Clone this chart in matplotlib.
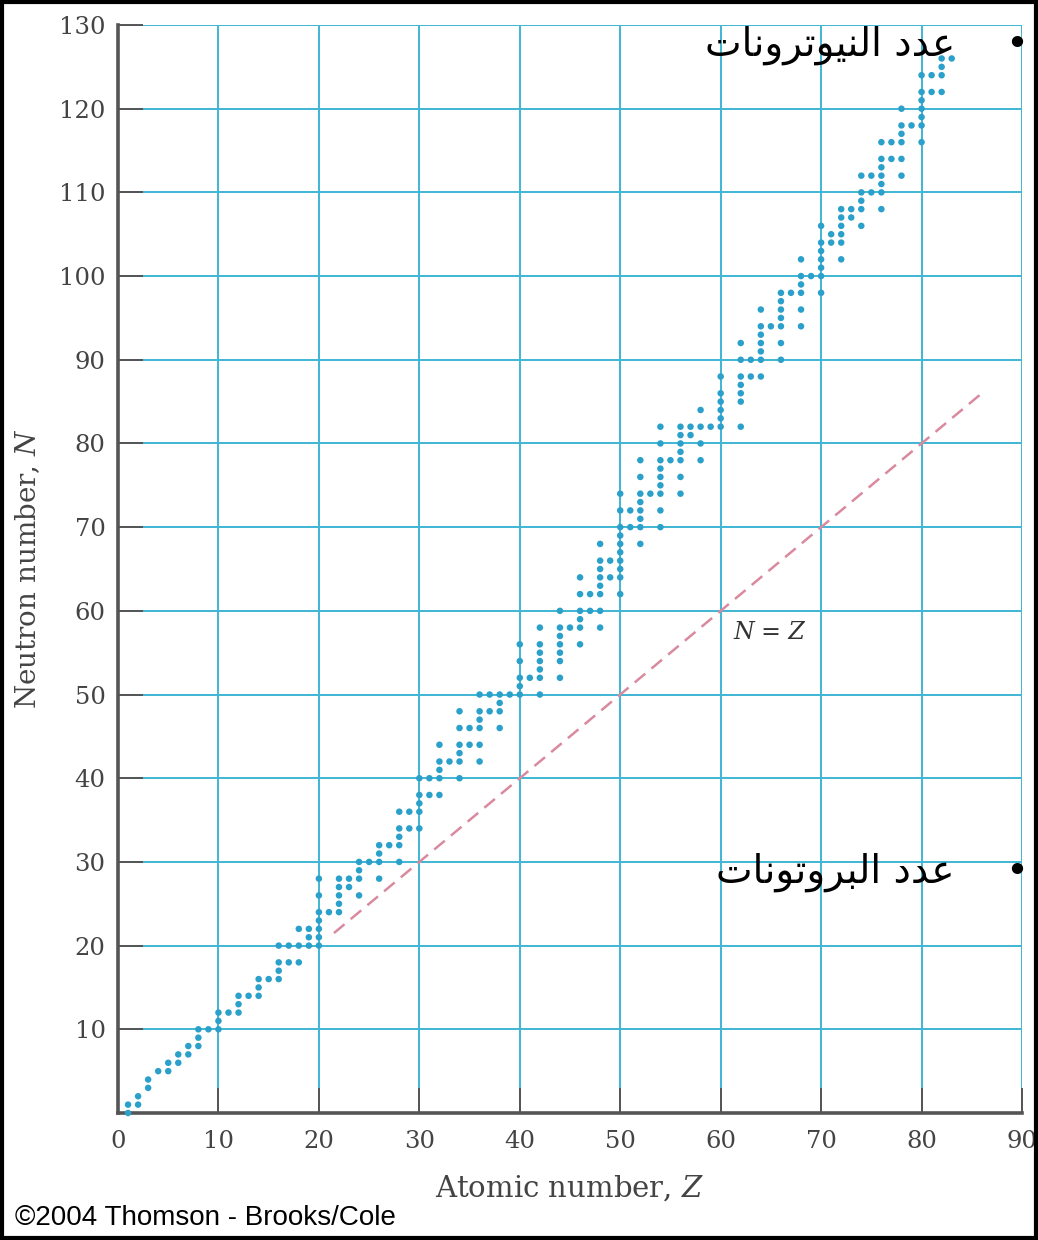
import matplotlib
matplotlib.use("Agg")
import matplotlib.pyplot as plt
from matplotlib.patches import Rectangle

# ---------------- data ----------------
# neutron numbers of stable nuclei, index = Z - 1 (Z = 1 .. 83)
stable_neutrons = [
    [0, 1], [1, 2], [3, 4], [5], [5, 6], [6, 7], [7, 8], [8, 9, 10], [10], [10, 11, 12],
    [12], [12, 13, 14], [14], [14, 15, 16], [16], [16, 17, 18, 20], [18, 20], [18, 20, 22],
    [20, 21, 22], [20, 21, 22, 23, 24, 26, 28],
    [24], [24, 25, 26, 27, 28], [27, 28], [26, 28, 29, 30], [30], [28, 30, 31, 32], [32],
    [30, 32, 33, 34, 36], [34, 36], [34, 36, 37, 38, 40],
    [38, 40], [38, 40, 41, 42, 44], [42], [40, 42, 43, 44, 46, 48], [44, 46],
    [42, 44, 46, 47, 48, 50], [48, 50], [46, 48, 49, 50], [50], [50, 51, 52, 54, 56],
    [52], [50, 52, 53, 54, 55, 56, 58], [], [52, 54, 55, 56, 57, 58, 60], [58],
    [56, 58, 59, 60, 62, 64], [60, 62], [58, 60, 62, 63, 64, 65, 66, 68], [64, 66],
    [62, 64, 65, 66, 67, 68, 69, 70, 72, 74],
    [70, 72], [68, 70, 71, 72, 73, 74, 76, 78], [74], [70, 72, 74, 75, 76, 77, 78, 80, 82],
    [78], [74, 76, 78, 79, 80, 81, 82], [81, 82], [78, 80, 82, 84], [82],
    [82, 83, 84, 85, 86, 88],
    [], [82, 85, 86, 87, 88, 90, 92], [88, 90], [88, 90, 91, 92, 93, 94, 96], [94],
    [90, 92, 94, 95, 96, 97, 98], [98], [94, 96, 98, 99, 100, 102], [100],
    [98, 100, 101, 102, 103, 104, 106],
    [104, 105], [102, 104, 105, 106, 107, 108], [107, 108], [106, 108, 109, 110, 112],
    [110, 112], [108, 110, 111, 112, 113, 114, 116], [114, 116],
    [112, 114, 116, 117, 118, 120], [118], [116, 118, 119, 120, 121, 122, 124],
    [122, 124], [122, 124, 125, 126], [126],
]
x_ticks = [0, 10, 20, 30, 40, 50, 60, 70, 80, 90]
y_ticks = [0, 10, 20, 30, 40, 50, 60, 70, 80, 90, 100, 110, 120, 130]
y_tick_labels = [""] + [str(v) for v in y_ticks[1:]]
nz_line = [21.5, 86.0]          # extent of the N = Z reference line
nz_label_pos = (61.3, 57.4)

title_neutrons = "عدد النيوترونات"
title_protons = "عدد البروتونات"

# ------------- minimal Arabic shaping (matplotlib has no shaper) -------------
FORMS = {  # iso, fin, init, med
    'ا': ('\uFE8D', '\uFE8E', None, None),
    'د': ('\uFEA9', '\uFEAA', None, None),
    'ر': ('\uFEAD', '\uFEAE', None, None),
    'و': ('\uFEED', '\uFEEE', None, None),
    'ب': ('\uFE8F', '\uFE90', '\uFE91', '\uFE92'),
    'ت': ('\uFE95', '\uFE96', '\uFE97', '\uFE98'),
    'ع': ('\uFEC9', '\uFECA', '\uFECB', '\uFECC'),
    'ل': ('\uFEDD', '\uFEDE', '\uFEDF', '\uFEE0'),
    'ن': ('\uFEE5', '\uFEE6', '\uFEE7', '\uFEE8'),
    'ي': ('\uFEF1', '\uFEF2', '\uFEF3', '\uFEF4'),
}


def shape_arabic(s):
    out = []
    for i, ch in enumerate(s):
        if ch not in FORMS:
            out.append(ch)
            continue
        prev = s[i - 1] if i > 0 else ''
        nxt = s[i + 1] if i + 1 < len(s) else ''
        jp = prev in FORMS and FORMS[prev][2] is not None
        jn = FORMS[ch][2] is not None and nxt in FORMS
        iso, fin, ini, med = FORMS[ch]
        if jp and jn:
            out.append(med)
        elif jp:
            out.append(fin)
        elif jn:
            out.append(ini)
        else:
            out.append(iso)
    return ''.join(reversed(out))


# ---------------- figure ----------------
W, H = 1038, 1240
plt.rcParams["mathtext.fontset"] = "dejavuserif"
fig = plt.figure(figsize=(W / 100, H / 100), dpi=100)
fig.patch.set_facecolor("white")
ax = fig.add_axes([118 / W, 1 - 1113 / H, (1022 - 118) / W, (1113 - 25) / H])

zs, ns = [], []
for z, nlist in enumerate(stable_neutrons, start=1):
    for n in nlist:
        zs.append(z)
        ns.append(n)

grid_col = "#3fb6d3"
ax.set_xlim(0, 90)
ax.set_ylim(0, 130)
ax.set_xticks(x_ticks)
ax.set_yticks(y_ticks)
ax.set_yticklabels(y_tick_labels)
ax.grid(True, color=grid_col, lw=1.4, zorder=0)
ax.set_axisbelow(True)

for side in ("top", "right"):
    ax.spines[side].set_visible(False)
for side in ("left", "bottom"):
    ax.spines[side].set_color("#555555")
    ax.spines[side].set_linewidth(2.6)

ax.tick_params(direction="in", length=18, width=1.4, color="#555555",
               labelcolor="#444444", labelsize=17.5)
ax.tick_params(axis="x", pad=12)
ax.tick_params(axis="y", pad=9)
for lab in ax.get_xticklabels() + ax.get_yticklabels():
    lab.set_family("DejaVu Serif")

ax.scatter(zs, ns, s=22, color="#2aa0ca", edgecolors="none", zorder=3, clip_on=False)
ax.plot(nz_line, nz_line, color="#d98a9e", lw=1.8, ls=(0, (5.5, 3.2)), zorder=2)
ax.text(*nz_label_pos, "N = Z", family="DejaVu Serif", style="italic",
        fontsize=17, color="#333333", va="center", ha="left")

ax.set_ylabel("Neutron number, $N$", family="DejaVu Serif", fontsize=20,
              color="#444444", labelpad=12)
ax.set_xlabel("Atomic number, $Z$", family="DejaVu Serif", fontsize=21,
              color="#444444", labelpad=15)

fig.text(15 / W, 1 - 1218 / H, "©2004 Thomson - Brooks/Cole",
         family="Liberation Sans", fontsize=20, va="center", ha="left")

# Arabic bullets
for txt, yp in ((title_neutrons, 45), (title_protons, 872)):
    fig.text(955 / W, 1 - yp / H, shape_arabic(txt), family=["DejaVu Sans"],
             fontsize=28, ha="right", va="center", color="black")
    fig.text(1017 / W, 1 - yp / H, "•", family="DejaVu Sans", fontsize=28,
             ha="center", va="center", color="black")

fig.add_artist(Rectangle((0.0015, 0.0015), 0.997, 0.997, transform=fig.transFigure,
                         fill=False, edgecolor="black", lw=3))

fig.savefig("out.png", dpi=100)
